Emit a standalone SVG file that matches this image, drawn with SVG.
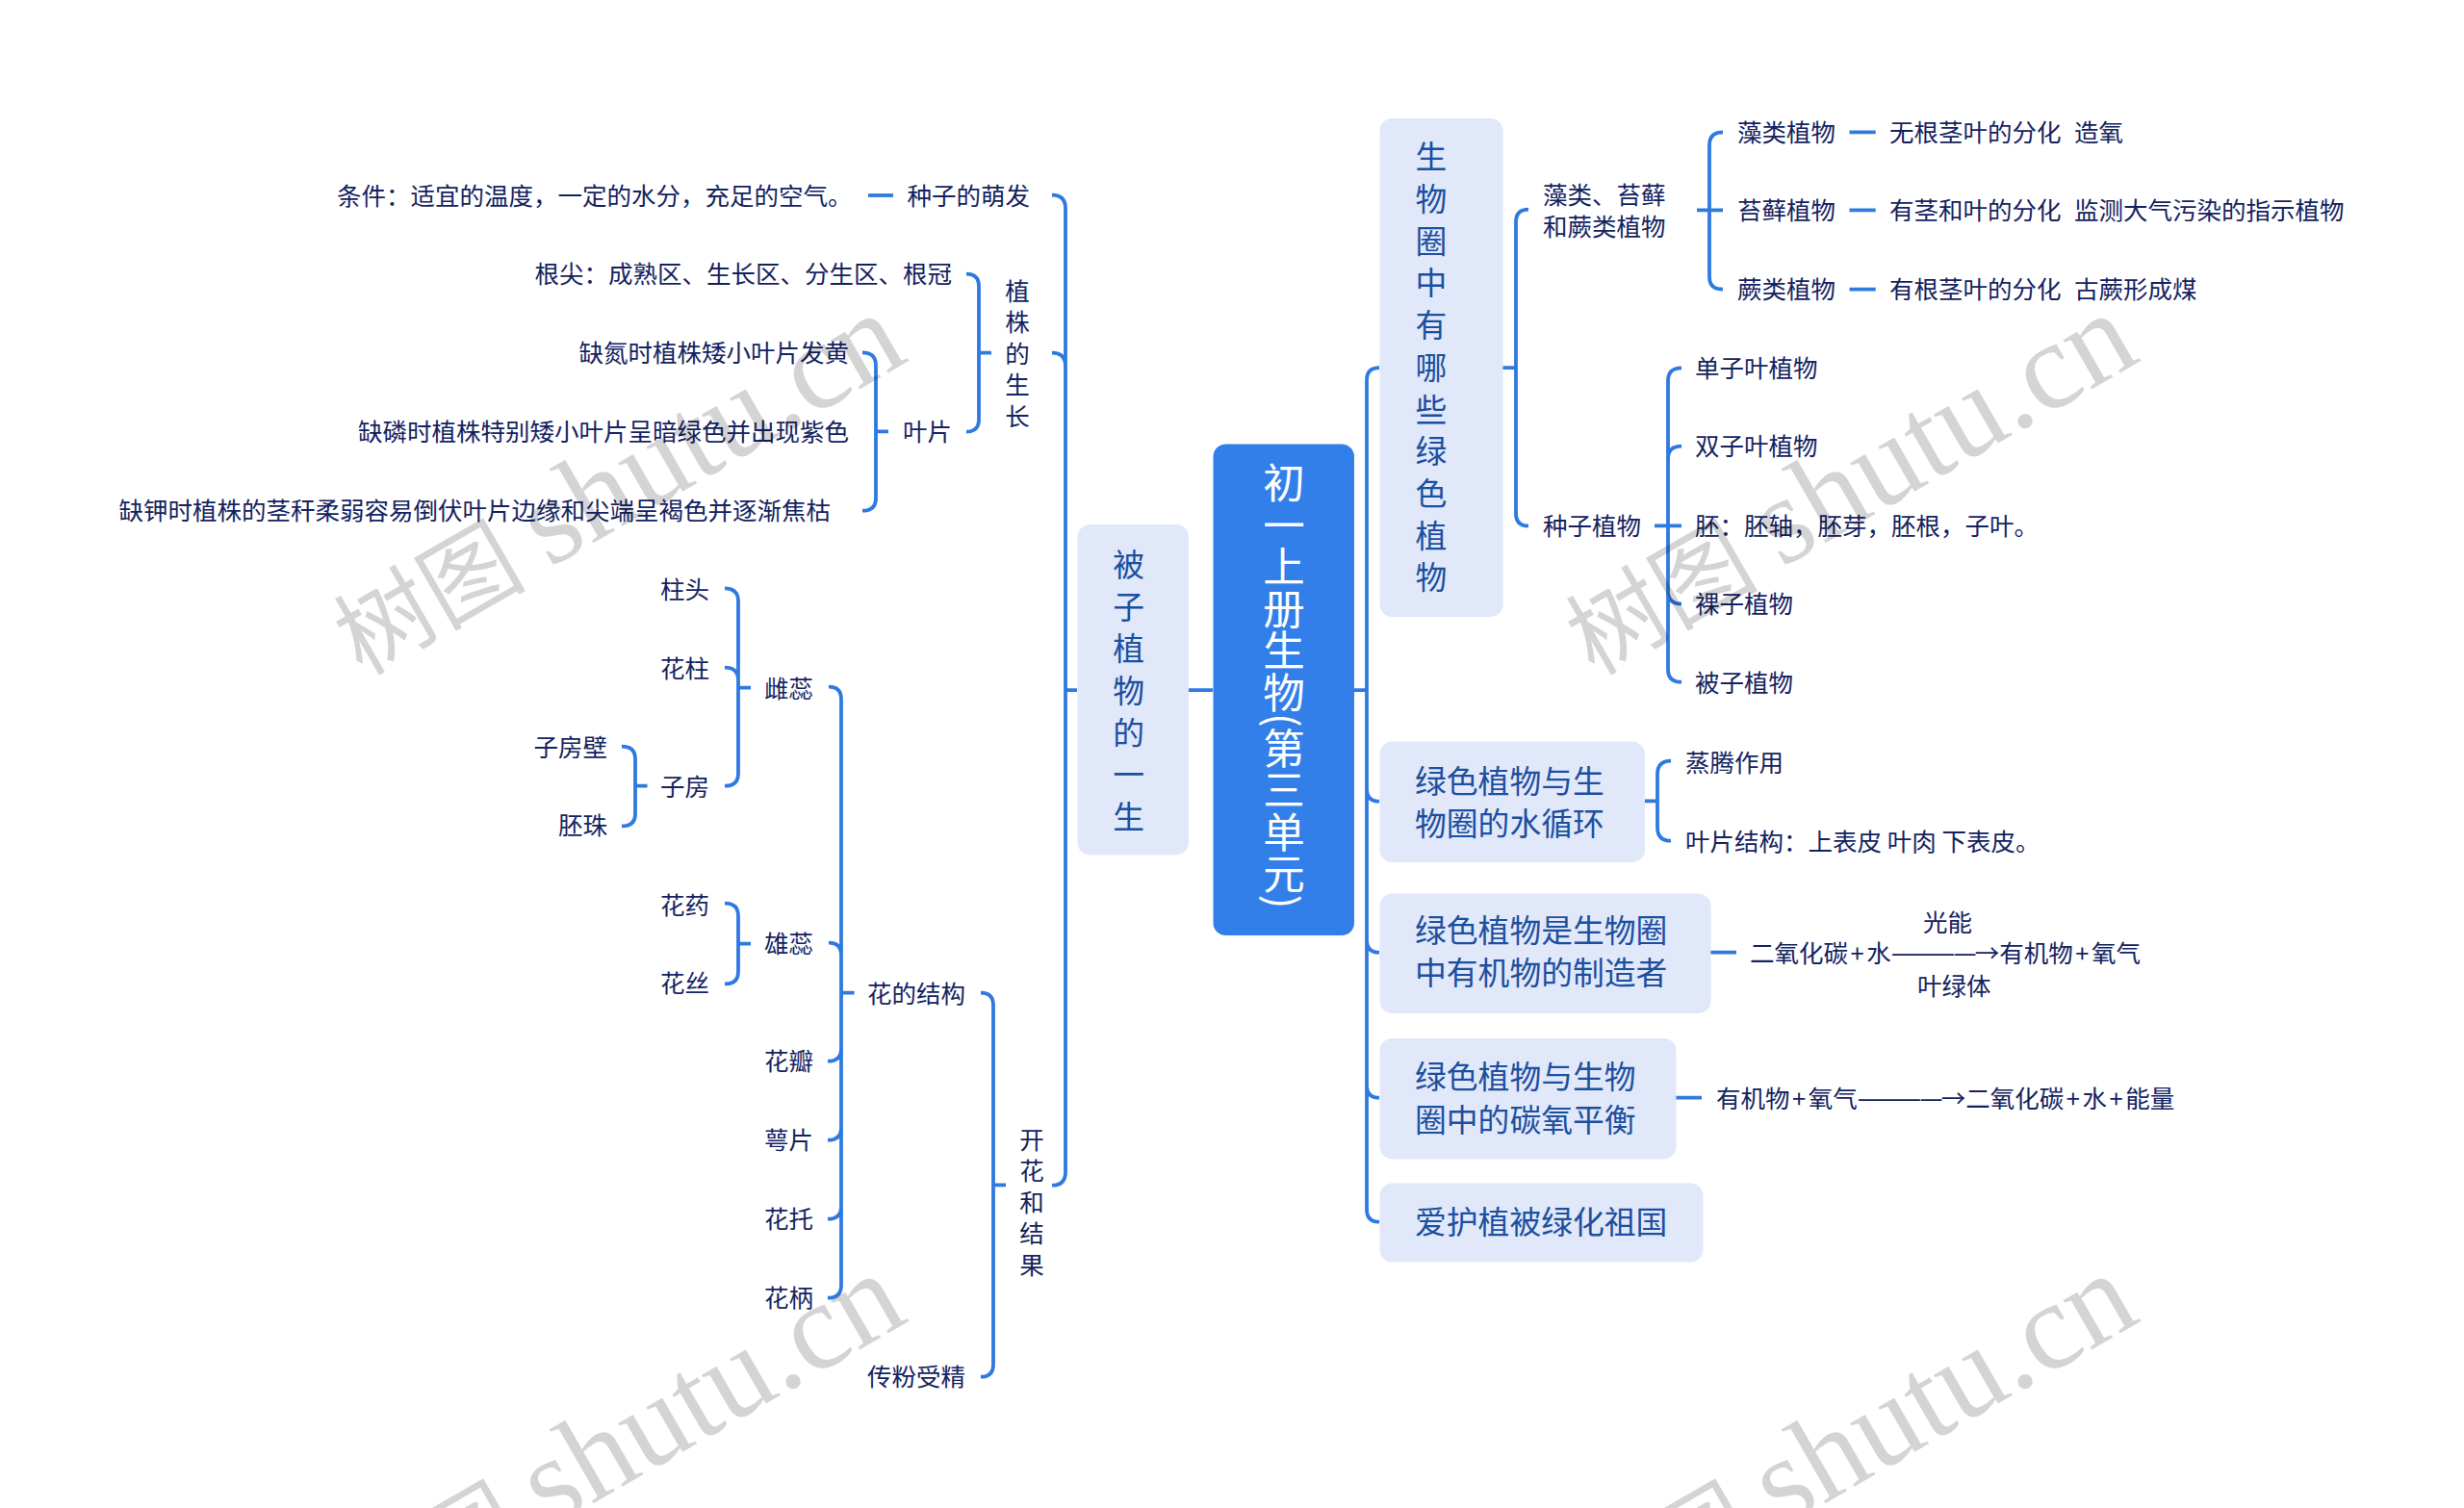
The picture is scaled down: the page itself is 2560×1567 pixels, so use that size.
<svg xmlns="http://www.w3.org/2000/svg" width="2560" height="1567" viewBox="0 0 2560 1567">
<style>
text{font-family:"Noto Sans CJK SC","Noto Sans",sans-serif;white-space:pre}
.t{font-size:25.5px;fill:#14235f}
.e{text-anchor:end}
.n{font-size:32.8px;fill:#1b4f9f}
.v{writing-mode:vertical-rl}
.vn{letter-spacing:10.9px}
.vt{letter-spacing:7.1px}
.b{fill:#e1e8fa}
.c{fill:none;stroke:#2f7ae0;stroke-width:3.8}
.w{font-family:"Liberation Serif","Noto Sans CJK SC",serif;font-size:129px;fill:#000;fill-opacity:.17}
.wc{font-size:100px}
.d{font-size:27px;letter-spacing:-1.7px}
.p{letter-spacing:2.5px}
</style>
<rect width="2560" height="1567" fill="#fff"/>
<g id="connectors" class="c" transform="translate(0 .7)">
<path d="M1407 716.5H1420M1433 381.5Q1420 381.5 1420 394.5V1256Q1420 1269 1433 1269M1420 819Q1420 832 1433 832M1420 976Q1420 989 1433 989M1420 1127Q1420 1140 1433 1140"/>
<path d="M1561 381.5H1575M1588 217Q1575 217 1575 230V532.700Q1575 545.700 1588 545.700"/>
<path d="M1763 217.700H1790M1790 136.700Q1776 136.700 1776 150V287Q1776 300 1790 300"/>
<path d="M1921.500 136.700H1948.700M1921.500 217.700H1948.700M1921.500 300H1948.700"/>
<path d="M1719 545.700H1747M1747 381.700Q1733 381.700 1733 395V695Q1733 708 1747 708M1733 476Q1733 463 1747 463M1733 613.700Q1733 626.700 1747 626.700"/>
<path d="M1709 831.700H1722M1736 790Q1722 790 1722 804V859Q1722 873 1736 873"/>
<path d="M1777 989H1804M1741 1140H1768"/>
<path d="M1260 716.500H1235M1119 716.500H1107M1093 202Q1107 202 1107 216V1217Q1107 1231 1093 1231M1093 366Q1107 366 1107 380"/>
<path d="M902 202.300H928"/>
<path d="M1030 366H1017M1004 284Q1017 284 1017 297V435Q1017 448 1004 448"/>
<path d="M923 447.700H910M896 365.700Q910 365.700 910 379V517Q910 530 896 530"/>
<path d="M1045 1230.700H1032M1019 1031Q1032 1031 1032 1044V1417Q1032 1430 1019 1430"/>
<path d="M887.600 1031H874M861 713Q874 713 874 726V1335Q874 1348 860 1348M861 979Q874 979 874 992M860 1102Q874 1102 874 1089M860 1184Q874 1184 874 1171M860 1266Q874 1266 874 1253"/>
<path d="M780 714H767M753 610.700Q767 610.700 767 624V803Q767 816 753 816M753 693Q767 693 767 706"/>
<path d="M780 980H767M753 938Q767 938 767 951V1009Q767 1021.700 753 1021.700"/>
<path d="M672.500 816H660M646 775Q660 775 660 788V845Q660 857.700 646 857.700"/>
</g>
<g id="root"><rect x="1260.500" y="461.500" width="146.500" height="510.500" rx="13" fill="#327fe9"/><text class="v" x="1334" y="480" font-size="43.500" fill="#fff">初一上册生物(第三单元)</text></g>
<g id="n-bei"><rect class="b" x="1119.500" y="545" width="115.500" height="343.500" rx="13"/><text class="n v vn" x="1172.700" y="570">被子植物的一生</text></g>
<g id="n-sw"><rect class="b" x="1433.500" y="123" width="128" height="518" rx="13"/><text class="n v vn" x="1487" y="146.500">生物圈中有哪些绿色植物</text></g>
<g id="n-water" transform="translate(0 1.500)"><rect class="b" x="1433.500" y="769" width="275.500" height="125.500" rx="13"/><text class="n" x="1470" y="822">绿色植物与生</text><text class="n" x="1470" y="866">物圈的水循环</text></g>
<g id="n-made" transform="translate(0 1.500)"><rect class="b" x="1433.500" y="927" width="344" height="124.500" rx="13"/><text class="n" x="1470" y="977.500">绿色植物是生物圈</text><text class="n" x="1470" y="1021.500">中有机物的制造者</text></g>
<g id="n-co2" transform="translate(0 1.500)"><rect class="b" x="1433.500" y="1077.500" width="308" height="125.500" rx="13"/><text class="n" x="1470" y="1129">绿色植物与生物</text><text class="n" x="1470" y="1174">圈中的碳氧平衡</text></g>
<g id="n-love" transform="translate(0 1.500)"><rect class="b" x="1433.500" y="1228" width="336" height="82" rx="13"/><text class="n" x="1470" y="1280.500">爱护植被绿化祖国</text></g>
<g id="right-leaves" transform="translate(0 1.200)">
<g id="r1"><text class="t" x="1603" y="211">藻类、苔藓</text><text class="t" x="1603" y="244">和蕨类植物</text></g>
<g id="r2"><text class="t" x="1603" y="555">种子植物</text></g>
<g id="r3"><text class="t" x="1805" y="146">藻类植物</text></g>
<g id="r4"><text class="t" x="1805" y="227">苔藓植物</text></g>
<g id="r5"><text class="t" x="1805" y="309">蕨类植物</text></g>
<g id="r6"><text class="t" x="1963" y="146">无根茎叶的分化  <tspan dx="2">造氧</tspan></text></g>
<g id="r7"><text class="t" x="1963" y="227">有茎和叶的分化  <tspan dx="2">监测大气污染的指示植物</tspan></text></g>
<g id="r8"><text class="t" x="1963" y="309">有根茎叶的分化  <tspan dx="2">古蕨形成煤</tspan></text></g>
<g id="r9"><text class="t" x="1761" y="391">单子叶植物</text></g>
<g id="r10"><text class="t" x="1761" y="472">双子叶植物</text></g>
<g id="r11"><text class="t" x="1761" y="555">胚：胚轴，胚芽，胚根，子叶。</text></g>
<g id="r12"><text class="t" x="1761" y="636">裸子植物</text></g>
<g id="r13"><text class="t" x="1761" y="718">被子植物</text></g>
<g id="r14"><text class="t" x="1751" y="801">蒸腾作用</text></g>
<g id="r15"><text class="t" x="1751" y="883">叶片结构：上表皮 叶肉 下表皮。</text></g>
<g id="r16"><text class="t" x="1818" y="999">二氧化碳<tspan class="p" dx="2.500">+</tspan>水<tspan class="d">————</tspan>→有机物<tspan class="p" dx="2.500">+</tspan>氧气</text></g>
<g id="r17"><text class="t" x="1998" y="967">光能</text></g>
<g id="r18"><text class="t" x="1992" y="1033">叶绿体</text></g>
<g id="r19"><text class="t" x="1783" y="1150">有机物<tspan class="p" dx="2.500">+</tspan>氧气<tspan class="d">————</tspan>→二氧化碳<tspan class="p" dx="2.500">+</tspan>水<tspan class="p" dx="2.500">+</tspan>能量</text></g>
</g>
<g id="left-leaves" transform="translate(0 1.200)">
<g id="l1"><text class="t" x="350" y="211.500">条件：适宜的温度，一定的水分，充足的空气。</text></g>
<g id="l2"><text class="t" x="942.500" y="211.500">种子的萌发</text></g>
<g id="l3"><text class="t e" x="989" y="293">根尖：成熟区、生长区、分生区、根冠</text></g>
<g id="l4"><text class="t e" x="882" y="375">缺氮时植株矮小叶片发黄</text></g>
<g id="l5"><text class="t e" x="882" y="457">缺磷时植株特别矮小叶片呈暗绿色并出现紫色</text></g>
<g id="l6"><text class="t e" x="863" y="539">缺钾时植株的茎秆柔弱容易倒伏叶片边缘和尖端呈褐色并逐渐焦枯</text></g>
<g id="l7"><text class="t" x="938" y="457">叶片</text></g>
<g id="l8"><text class="t v vt" x="1057" y="288">植株的生长</text></g>
<g id="l9"><text class="t" x="686" y="621">柱头</text></g>
<g id="l10"><text class="t" x="686" y="703">花柱</text></g>
<g id="l11"><text class="t" x="686" y="826">子房</text></g>
<g id="l12"><text class="t e" x="631" y="785">子房壁</text></g>
<g id="l13"><text class="t e" x="631" y="866">胚珠</text></g>
<g id="l14"><text class="t" x="794" y="724">雌蕊</text></g>
<g id="l15"><text class="t" x="686" y="949">花药</text></g>
<g id="l16"><text class="t" x="686" y="1030">花丝</text></g>
<g id="l17"><text class="t" x="794" y="989">雄蕊</text></g>
<g id="l18"><text class="t" x="794" y="1111">花瓣</text></g>
<g id="l19"><text class="t" x="794" y="1193">萼片</text></g>
<g id="l20"><text class="t" x="794" y="1275">花托</text></g>
<g id="l21"><text class="t" x="794" y="1357">花柄</text></g>
<g id="l22"><text class="t" x="901" y="1041">花的结构</text></g>
<g id="l23"><text class="t" x="901" y="1439">传粉受精</text></g>
<g id="l24"><text class="t v vt" x="1072" y="1170">开花和结果</text></g>
</g>
<g id="watermark">
<text class="w" transform="translate(376 703) rotate(-30)"><tspan class="wc">树图 </tspan>shutu.cn</text>
<text class="w" transform="translate(1656 703) rotate(-30)"><tspan class="wc">树图 </tspan>shutu.cn</text>
<text class="w" transform="translate(376 1701) rotate(-30)"><tspan class="wc">树图 </tspan>shutu.cn</text>
<text class="w" transform="translate(1656 1701) rotate(-30)"><tspan class="wc">树图 </tspan>shutu.cn</text>
</g>
</svg>
